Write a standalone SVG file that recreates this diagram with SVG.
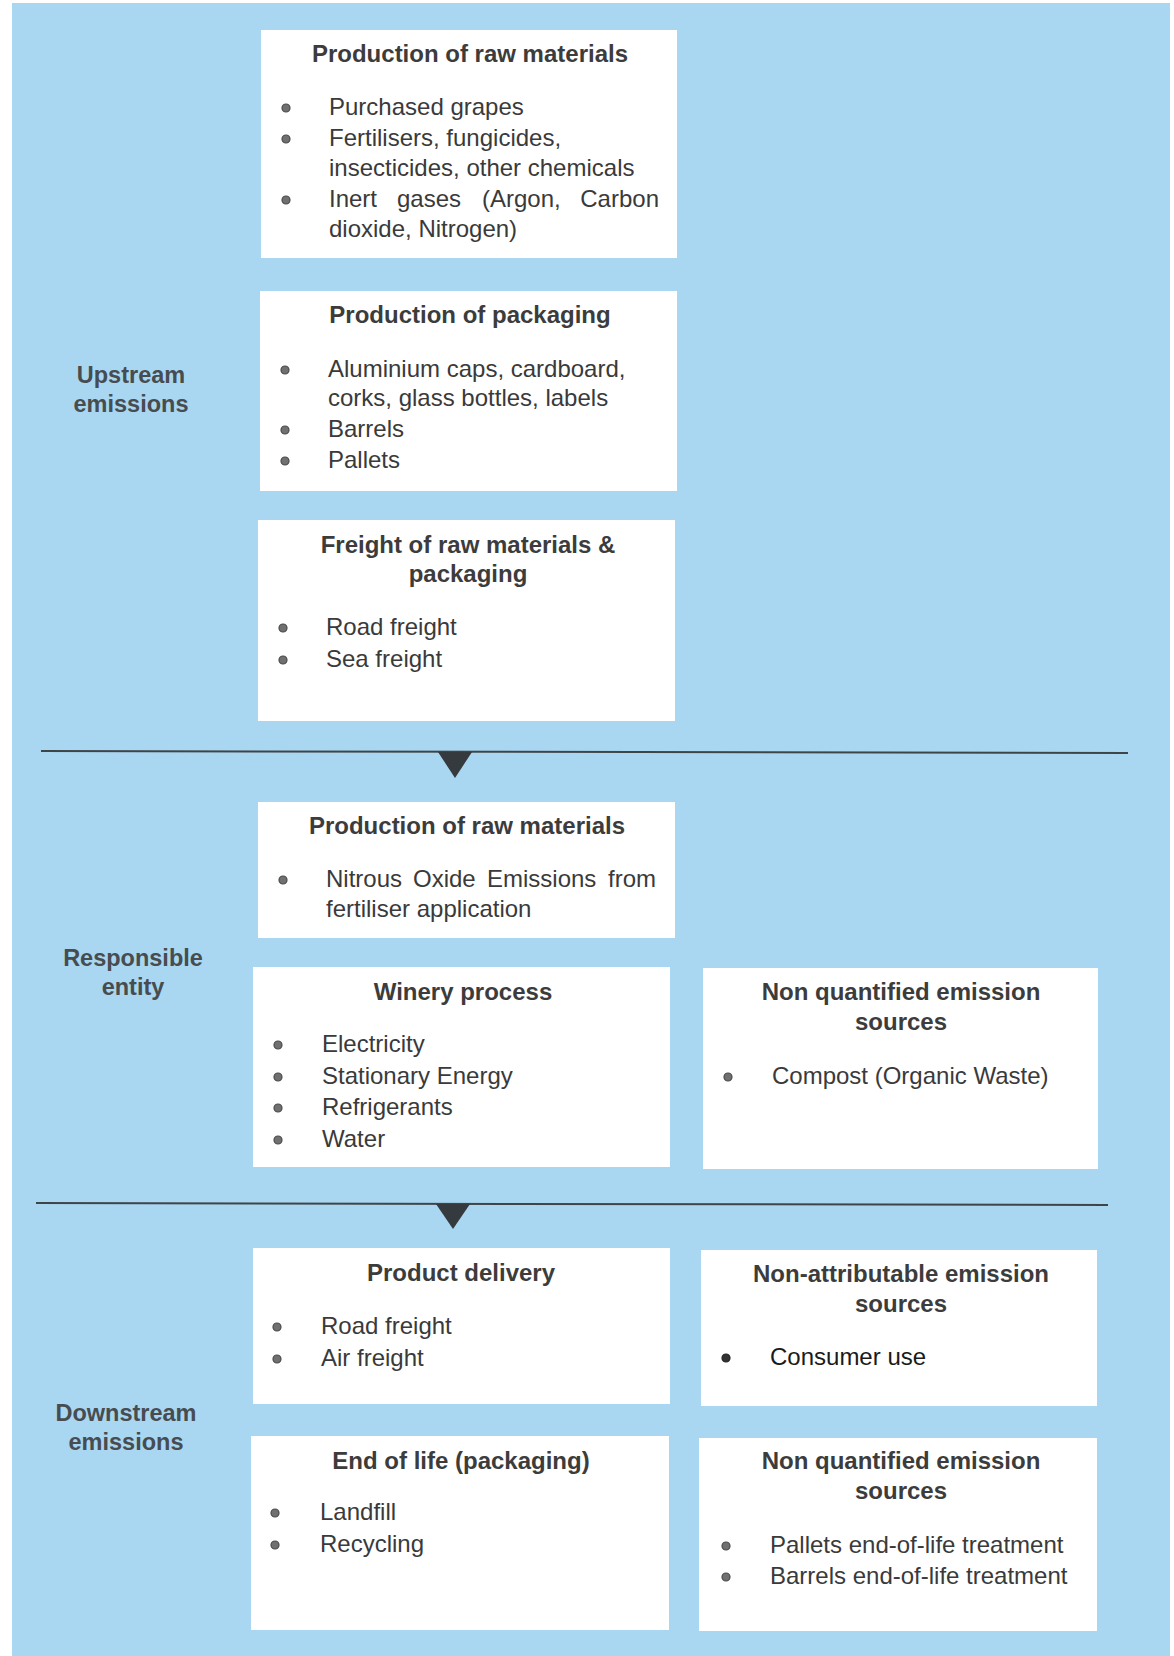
<svg xmlns="http://www.w3.org/2000/svg" width="1174" height="1656" viewBox="0 0 1174 1656">
<defs>
<style>
.bg{fill:#a9d7f1}
.box{fill:#ffffff}
.h{font-family:"Liberation Sans",Arial,sans-serif;font-size:24px;font-weight:bold;fill:#3c3c3c;text-anchor:middle}
.sec{font-family:"Liberation Sans",Arial,sans-serif;font-size:23.5px;font-weight:bold;fill:#474c50;text-anchor:middle}
.t{font-family:"Liberation Sans",Arial,sans-serif;font-size:24px;fill:#3a3a3a}
.b{fill:#707070;stroke:#4a4a4a;stroke-width:1.2}
.sep{stroke:#3f4447;stroke-width:2;fill:none}
.tri{fill:#353a3e}
</style>
</defs>
<rect x="0" y="0" width="1174" height="1656" fill="#ffffff"/>
<rect class="bg" x="12" y="3" width="1158" height="1653"/>

<g id="label-upstream">
<text class="sec" x="131" y="383">Upstream</text>
<text class="sec" x="131" y="412">emissions</text>
</g>
<g id="label-responsible">
<text class="sec" x="133" y="966">Responsible</text>
<text class="sec" x="133" y="995">entity</text>
</g>
<g id="label-downstream">
<text class="sec" x="126" y="1421">Downstream</text>
<text class="sec" x="126" y="1450">emissions</text>
</g>

<g id="connectors">
<line class="sep" x1="41" y1="751" x2="1128" y2="753"/>
<polygon class="tri" points="438,752 472,752 455,778"/>
<line class="sep" x1="36" y1="1203" x2="1108" y2="1205"/>
<polygon class="tri" points="436,1204 470,1204 453,1229"/>
</g>

<g id="box-raw-materials-upstream">
<rect class="box" x="261" y="30" width="416" height="228"/>
<text class="h" x="470" y="62">Production of raw materials</text>
<circle class="b" cx="286" cy="108" r="4"/>
<text class="t" x="329" y="115">Purchased grapes</text>
<circle class="b" cx="286" cy="139" r="4"/>
<text class="t" x="329" y="146">Fertilisers, fungicides,</text>
<text class="t" x="329" y="176">insecticides, other chemicals</text>
<circle class="b" cx="286" cy="200" r="4"/>
<text class="t" x="329" y="207">Inert</text>
<text class="t" x="397" y="207">gases</text>
<text class="t" x="482" y="207">(Argon,</text>
<text class="t" x="659" y="207" text-anchor="end">Carbon</text>
<text class="t" x="329" y="237">dioxide, Nitrogen)</text>
</g>

<g id="box-packaging">
<rect class="box" x="260" y="291" width="417" height="200"/>
<text class="h" x="470" y="323">Production of packaging</text>
<circle class="b" cx="285" cy="370" r="4"/>
<text class="t" x="328" y="377">Aluminium caps, cardboard,</text>
<text class="t" x="328" y="406">corks, glass bottles, labels</text>
<circle class="b" cx="285" cy="430" r="4"/>
<text class="t" x="328" y="437">Barrels</text>
<circle class="b" cx="285" cy="461" r="4"/>
<text class="t" x="328" y="468">Pallets</text>
</g>

<g id="box-freight">
<rect class="box" x="258" y="520" width="417" height="201"/>
<text class="h" x="468" y="553">Freight of raw materials &amp;</text>
<text class="h" x="468" y="582">packaging</text>
<circle class="b" cx="283" cy="628" r="4"/>
<text class="t" x="326" y="635">Road freight</text>
<circle class="b" cx="283" cy="660" r="4"/>
<text class="t" x="326" y="667">Sea freight</text>
</g>

<g id="box-raw-materials-entity">
<rect class="box" x="258" y="802" width="417" height="136"/>
<text class="h" x="467" y="834">Production of raw materials</text>
<circle class="b" cx="283" cy="880" r="4"/>
<text class="t" x="326" y="887">Nitrous</text>
<text class="t" x="413" y="887">Oxide</text>
<text class="t" x="487" y="887">Emissions</text>
<text class="t" x="656" y="887" text-anchor="end">from</text>
<text class="t" x="326" y="917">fertiliser application</text>
</g>

<g id="box-winery">
<rect class="box" x="253" y="967" width="417" height="200"/>
<text class="h" x="463" y="1000">Winery process</text>
<circle class="b" cx="278" cy="1045" r="4"/>
<text class="t" x="322" y="1052">Electricity</text>
<circle class="b" cx="278" cy="1077" r="4"/>
<text class="t" x="322" y="1084">Stationary Energy</text>
<circle class="b" cx="278" cy="1108" r="4"/>
<text class="t" x="322" y="1115">Refrigerants</text>
<circle class="b" cx="278" cy="1140" r="4"/>
<text class="t" x="322" y="1147">Water</text>
</g>

<g id="box-nonquantified-entity">
<rect class="box" x="703" y="968" width="395" height="201"/>
<text class="h" x="901" y="1000">Non quantified emission</text>
<text class="h" x="901" y="1030">sources</text>
<circle class="b" cx="728" cy="1077" r="4"/>
<text class="t" x="772" y="1084">Compost (Organic Waste)</text>
</g>

<g id="box-delivery">
<rect class="box" x="253" y="1248" width="417" height="156"/>
<text class="h" x="461" y="1281">Product delivery</text>
<circle class="b" cx="277" cy="1327" r="4"/>
<text class="t" x="321" y="1334">Road freight</text>
<circle class="b" cx="277" cy="1359" r="4"/>
<text class="t" x="321" y="1366">Air freight</text>
</g>

<g id="box-nonattributable">
<rect class="box" x="701" y="1250" width="396" height="156"/>
<text class="h" x="901" y="1282">Non-attributable emission</text>
<text class="h" x="901" y="1312">sources</text>
<circle class="b" cx="726" cy="1358" r="4" style="fill:#333;stroke:#222"/>
<text class="t" x="770" y="1365" style="fill:#1a1a1a">Consumer use</text>
</g>

<g id="box-endoflife">
<rect class="box" x="251" y="1436" width="418" height="194"/>
<text class="h" x="461" y="1469">End of life (packaging)</text>
<circle class="b" cx="275" cy="1513" r="4"/>
<text class="t" x="320" y="1520">Landfill</text>
<circle class="b" cx="275" cy="1545" r="4"/>
<text class="t" x="320" y="1552">Recycling</text>
</g>

<g id="box-nonquantified-downstream">
<rect class="box" x="699" y="1438" width="398" height="193"/>
<text class="h" x="901" y="1469">Non quantified emission</text>
<text class="h" x="901" y="1499">sources</text>
<circle class="b" cx="726" cy="1546" r="4"/>
<text class="t" x="770" y="1553">Pallets end-of-life treatment</text>
<circle class="b" cx="726" cy="1577" r="4"/>
<text class="t" x="770" y="1584">Barrels end-of-life treatment</text>
</g>
</svg>
